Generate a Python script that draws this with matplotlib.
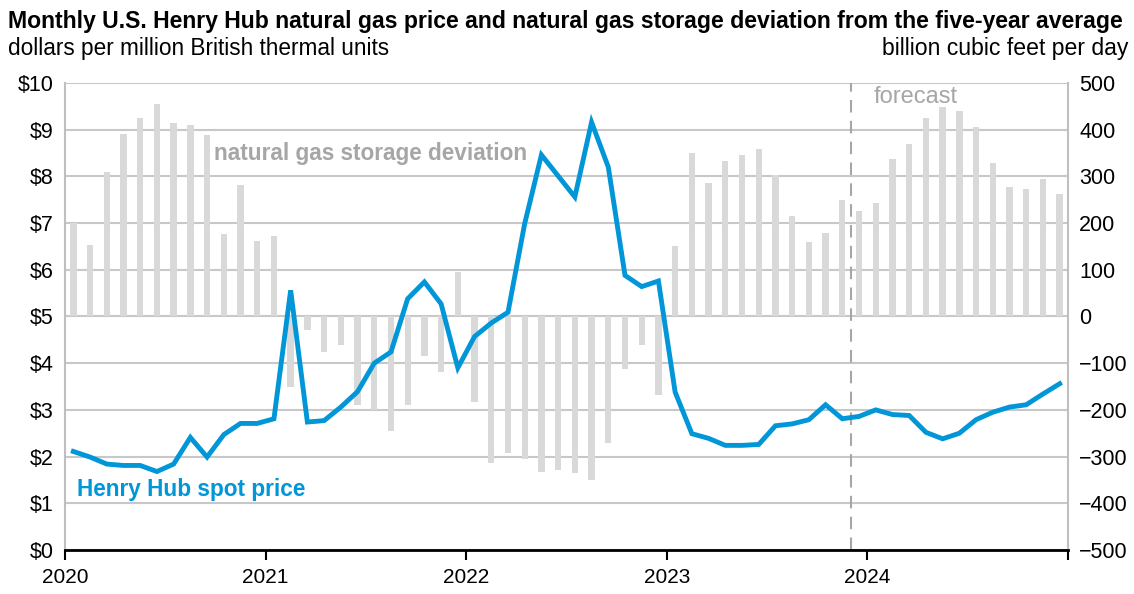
from matplotlib import pyplot as plt
import numpy as np

# monthly values, Jan 2020 - Dec 2024
years = ['2020', '2021', '2022', '2023', '2024']
price = [2.11, 1.99, 1.84, 1.81, 1.81, 1.68, 1.84, 2.41, 1.99, 2.47, 2.71, 2.71,
         2.81, 5.56, 2.74, 2.77, 3.06, 3.39, 4.00, 4.24, 5.38, 5.74, 5.27, 3.90,
         4.57, 4.86, 5.09, 6.99, 8.46, 8.01, 7.56, 9.16, 8.20, 5.88, 5.64, 5.76,
         3.38, 2.49, 2.39, 2.24, 2.24, 2.26, 2.66, 2.70, 2.79, 3.11, 2.81, 2.86,
         3.00, 2.90, 2.88, 2.52, 2.38, 2.50, 2.79, 2.95, 3.06, 3.11, 3.34, 3.56]
storage = [200, 154, 309, 390, 425, 456, 414, 411, 389, 176, 282, 161,
           172, -151, -28, -75, -61, -189, -200, -246, -189, -85, -118, 95,
           -184, -314, -292, -305, -332, -329, -335, -351, -270, -112, -61, -169,
           150, 350, 286, 334, 345, 359, 304, 216, 159, 179, 250, 225,
           244, 337, 370, 425, 449, 441, 406, 329, 277, 274, 294, 263]
forecast_start = 47  # Dec 2023

plt.rcParams['font.family'] = ['Liberation Sans', 'DejaVu Sans']
fig = plt.figure(figsize=(11.34, 5.94), dpi=100)
ax2 = fig.add_axes([0.0573, 0.0741, 0.8845, 0.7862])  # storage (right axis), drawn below
ax = fig.add_axes(ax2.get_position(), sharex=ax2)  # price on top
ax.patch.set_visible(False)

x = np.arange(len(price)) + 0.5

# storage bars
ax2.bar(x, storage, width=0.38, color='#d9d9d9', zorder=2)
ax2.set_ylim(-500, 500)
ax2.set_yticks(np.arange(-500, 501, 100))
ax2.yaxis.tick_right()
ax2.grid(axis='y', color='#c8c8c8', lw=1.5, zorder=0)
ax2.set_axisbelow(True)
ax2.axvline(forecast_start, color='#a6a6a6', lw=1.5, ls=(0, (6, 4)), zorder=1)

# price line
ax.plot(x, price, color='#0096d7', lw=3.5, solid_joinstyle='miter')
ax.set_ylim(0, 10)
ax.set_yticks(np.arange(0, 11, 1))
ax.set_yticklabels(['$' + str(v) for v in range(11)])
ax.set_xlim(0, len(price))
ax.set_xticks(np.arange(0, 61, 12))
ax.set_xticklabels(years + [''])

for a in (ax, ax2):
    a.tick_params(axis='y', length=0, labelsize=15.5, pad=8)
    a.tick_params(axis='x', length=7, width=1.5, direction='out', labelsize=15, pad=6)
    a.spines['top'].set_visible(False)
for s in ('left', 'right'):
    ax2.spines[s].set_color('#bfbfbf')
    ax2.spines[s].set_linewidth(1.5)
    ax.spines[s].set_visible(False)
ax2.spines['bottom'].set_visible(False)
ax.spines['bottom'].set_linewidth(2)
ax2.tick_params(axis='x', labelbottom=False, length=0)

ax2.text(8.9, 350, 'natural gas storage deviation', color='#a6a6a6',
         fontsize=16.3, fontweight='bold', va='center')
ax.text(0.7, 1.3, 'Henry Hub spot price', color='#0096d7',
        fontsize=16.3, fontweight='bold', va='center')
ax2.text(48.4, 470, 'forecast', color='#a6a6a6', fontsize=17, va='center')

fig.text(0.007, 0.963, 'Monthly U.S. Henry Hub natural gas price and natural gas storage deviation from the five-year average',
         fontsize=16.6, fontweight='bold', va='center')
fig.text(0.007, 0.918, 'dollars per million British thermal units', fontsize=16.3, va='center')
fig.text(0.995, 0.918, 'billion cubic feet per day', fontsize=16.6, ha='right', va='center')

plt.savefig('out.png', dpi=100)
plt.close()
